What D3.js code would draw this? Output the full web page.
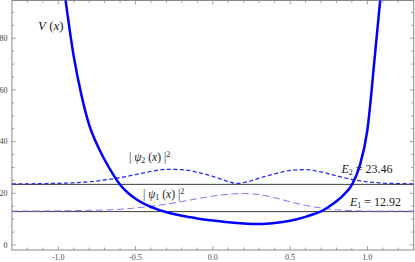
<!DOCTYPE html>
<html>
<head>
<meta charset="utf-8">
<script src="https://cdn.jsdelivr.net/npm/d3@7"></script>
<style>
  body { margin: 0; background: #fff; }
  text { font-family: "Liberation Serif", "DejaVu Serif", serif; }
</style>
</head>
<body>
<div id="chart"></div>
<script>
// potential V(x)
var vX = [-0.96, -0.9, -0.85, -0.8, -0.75, -0.7, -0.65, -0.6, -0.55, -0.5, -0.45, -0.4, -0.35, -0.3, -0.2, -0.1, 0.0, 0.1, 0.2, 0.3, 0.4, 0.5, 0.6, 0.65, 0.7, 0.75, 0.8, 0.85, 0.9, 0.95, 1.0, 1.05, 1.09];
var vY = [98, 73, 58, 46.5, 39, 33, 27.8, 23.3, 20.2, 17.9, 16.1, 14.7, 13.6, 12.7, 11.3, 10.3, 9.5, 8.8, 8.3, 8.1, 8.5, 9.4, 10.9, 11.9, 13.0, 14.8, 16.9, 19.6, 23.3, 30.5, 44.4, 74, 99];

// energy levels
var E1 = 12.92;
var E2 = 23.46;

// |psi_1|^2 and |psi_2|^2, drawn on top of their levels
var psi1X = [-1.3, -1.0, -0.8, -0.6, -0.5, -0.4, -0.3, -0.2, -0.1, 0.0, 0.1, 0.2, 0.3, 0.4, 0.5, 0.6, 0.7, 0.8, 0.9, 1.0, 1.3];
var psi1 = [0.2, 0.3, 0.5, 0.9, 1.4, 2.1, 2.9, 3.9, 5.0, 6.0, 6.7, 7.0, 6.6, 5.4, 3.8, 2.4, 1.4, 0.7, 0.4, 0.2, 0.2];
var psi2X = [-1.3, -1.2, -1.1, -1.0, -0.9, -0.8, -0.7, -0.6, -0.5, -0.4, -0.3, -0.2, -0.1, 0.0, 0.1, 0.15, 0.2, 0.3, 0.4, 0.5, 0.6, 0.7, 0.8, 0.9, 1.0, 1.1, 1.2, 1.3];
var psi2 = [0.2, 0.2, 0.3, 0.4, 0.6, 1.0, 1.7, 2.6, 3.8, 5.0, 5.8, 5.7, 4.7, 3.1, 1.1, 0.4, 0.7, 2.4, 4.1, 5.4, 5.7, 4.8, 3.3, 1.9, 1.0, 0.5, 0.3, 0.2];

// ticks
var xMajor = [-1.0, -0.5, 0.0, 0.5, 1.0];
var xLabels = ["-1.0", "-0.5", "0.0", "0.5", "1.0"];
var yMajor = [0, 20, 40, 60, 80];
var yLabels = ["0", "20", "40", "60", "80"];

var width = 415, height = 262;
var padL = 11.9, padR = 413.7, padT = 0.5, padB = 250;

var x = d3.scaleLinear().domain([-1.3, 1.3]).range([padL, padR]);
var y = d3.scaleLinear().domain([-1.93, 94.6]).range([padB, padT]);

var svg = d3.select("#chart").append("svg")
    .attr("width", width)
    .attr("height", height);

svg.append("clipPath")
    .attr("id", "plotclip")
  .append("rect")
    .attr("x", padL)
    .attr("y", padT)
    .attr("width", padR - padL)
    .attr("height", padB - padT);

var frameCol = "#8a8a8a";

// frame
svg.append("rect")
    .attr("x", padL)
    .attr("y", padT)
    .attr("width", padR - padL)
    .attr("height", padB - padT)
    .attr("fill", "none")
    .attr("stroke", frameCol)
    .attr("stroke-width", 1);

// minor + major ticks on all four sides
var xMinor = d3.range(-12, 13).map(function(i){ return i / 10; });
var yMinor = d3.range(0, 19).map(function(i){ return i * 5; });

var ticks = svg.append("g").attr("stroke", frameCol).attr("stroke-width", 0.8);

xMinor.forEach(function(t){
    var major = Math.abs(t * 2 - Math.round(t * 2)) < 1e-6;
    var len = major ? 4 : 2.5;
    ticks.append("line").attr("x1", x(t)).attr("x2", x(t)).attr("y1", padB).attr("y2", padB - len);
    ticks.append("line").attr("x1", x(t)).attr("x2", x(t)).attr("y1", padT).attr("y2", padT + len);
});

yMinor.forEach(function(t){
    var major = t % 20 == 0;
    var len = major ? 4 : 2.5;
    ticks.append("line").attr("x1", padL).attr("x2", padL + len).attr("y1", y(t)).attr("y2", y(t));
    ticks.append("line").attr("x1", padR).attr("x2", padR - len).attr("y1", y(t)).attr("y2", y(t));
});

// tick labels
svg.append("g").selectAll("text")
    .data(xMajor)
    .enter().append("text")
    .attr("x", function(d){ return x(d); })
    .attr("y", 260)
    .attr("text-anchor", "middle")
    .attr("font-size", "8px")
    .attr("fill", "#444")
    .text(function(d, i){ return xLabels[i]; });

svg.append("g").selectAll("text")
    .data(yMajor)
    .enter().append("text")
    .attr("x", 7.5)
    .attr("y", function(d){ return y(d) + 2.8; })
    .attr("text-anchor", "end")
    .attr("font-size", "8px")
    .attr("fill", "#444")
    .text(function(d, i){ return yLabels[i]; });

var plot = svg.append("g").attr("clip-path", "url(#plotclip)");

// energy levels
[E1, E2].forEach(function(e){
    plot.append("line")
        .attr("x1", padL)
        .attr("x2", padR)
        .attr("y1", y(e))
        .attr("y2", y(e))
        .attr("stroke", "#3a3a3a")
        .attr("stroke-width", 1);
});

var line = d3.line()
    .x(function(d){ return x(d[0]); })
    .y(function(d){ return y(d[1]); })
    .curve(d3.curveMonotoneX);

plot.append("path")
    .datum(psi1X.map(function(v, i){ return [v, psi1[i] + E1]; }))
    .attr("d", line)
    .attr("fill", "none")
    .attr("stroke", "#7a7af0")
    .attr("stroke-width", 1)
    .attr("stroke-dasharray", "7,3.5");

plot.append("path")
    .datum(psi2X.map(function(v, i){ return [v, psi2[i] + E2]; }))
    .attr("d", line)
    .attr("fill", "none")
    .attr("stroke", "#2a2af5")
    .attr("stroke-width", 1.3)
    .attr("stroke-dasharray", "4,2.5");

plot.append("path")
    .datum(vX.map(function(v, i){ return [v, vY[i]]; }))
    .attr("d", line)
    .attr("fill", "none")
    .attr("stroke", "#0000ff")
    .attr("stroke-width", 2.5);

// labels
var lab = svg.append("g").attr("fill", "#222");

var vl = lab.append("text").attr("x", 38).attr("y", 30).attr("font-size", "13px");
vl.append("tspan").attr("font-style", "italic").text("V");
vl.append("tspan").text(" (");
vl.append("tspan").attr("font-style", "italic").text("x");
vl.append("tspan").text(")");

function psiLabel(px, py, n){
    var t = lab.append("text").attr("x", px).attr("y", py).attr("font-size", "11.5px");
    t.append("tspan").text("| ");
    t.append("tspan").attr("font-style", "italic").text("\u03c8");
    t.append("tspan").attr("font-size", "8px").attr("dy", 2).text(n);
    t.append("tspan").attr("dy", -2).text(" (");
    t.append("tspan").attr("font-style", "italic").text("x");
    t.append("tspan").text(") |");
    t.append("tspan").attr("font-size", "8px").attr("dy", -4).text("2");
}
psiLabel(129, 161, "2");
psiLabel(143, 197.5, "1");

function eLabel(px, py, n, val){
    var t = lab.append("text").attr("x", px).attr("y", py).attr("font-size", "12px");
    t.append("tspan").attr("font-style", "italic").text("E");
    t.append("tspan").attr("font-size", "8px").attr("dy", 2).text(n);
    t.append("tspan").attr("dy", -2).text(" =  " + val);
}
eLabel(341.5, 173, "2", "23.46");
eLabel(350, 205.5, "1", "12.92");
</script>
</body>
</html>
